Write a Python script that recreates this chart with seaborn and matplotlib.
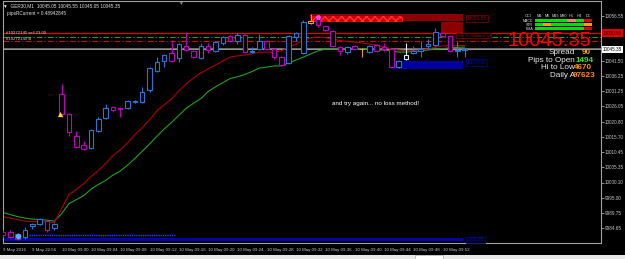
import numpy as np
import pandas as pd
import matplotlib
matplotlib.use("Agg")
import matplotlib.pyplot as plt
import seaborn as sns
from matplotlib.patches import Rectangle

# ---------------- data ----------------
opens = [9983.4, 9983.4, 9982.7, 9981.7, 9985.4, 9986.1, 9987.1, 9984.8,
         10030.2, 10023.4, 10016.0, 10012.9, 10011.9, 10017.7, 10022.1, 10025.8,
         10025.4, 10025.4, 10027.5, 10027.5, 10031.6, 10038.0, 10041.4, 10044.1,
         10042.4, 10046.5, 10044.8, 10042.4, 10046.5, 10044.8, 10047.5, 10049.9,
         10048.2, 10050.2, 10044.4, 10045.4, 10048.2, 10045.4, 10042.7, 10040.7,
         10049.5, 10044.1, 10054.3, 10055.6, 10053.2, 10051.6, 10046.1, 10044.4,
         10046.5, 10045.4, 10044.4, 10046.8, 10046.1, 10045.4, 10039.3, 10042.1,
         10044.1, 10044.8, 10046.5, 10046.8, 10050.9, 10049.9, 10044.6, 10045.0]
highs = [9983.8, 9983.8, 9983.0, 9985.1, 9986.5, 9988.2, 9987.5, 9986.5,
         10033.6, 10023.7, 10017.7, 10014.3, 10018.3, 10022.4, 10026.8, 10026.1,
         10025.8, 10028.2, 10028.2, 10032.6, 10039.3, 10042.7, 10043.8, 10048.5,
         10047.5, 10051.2, 10045.1, 10047.5, 10047.5, 10048.2, 10049.9, 10050.2,
         10050.9, 10050.5, 10046.1, 10050.5, 10048.5, 10045.8, 10043.1, 10050.2,
         10051.2, 10055.3, 10057.3, 10056.6, 10053.6, 10051.9, 10046.5, 10046.5,
         10046.8, 10045.8, 10046.8, 10047.1, 10047.5, 10045.8, 10041.7, 10047.5,
         10046.5, 10048.2, 10048.8, 10052.6, 10051.2, 10050.2, 10048.2, 10045.6]
lows = [9981.7, 9981.4, 9980.7, 9981.0, 9984.4, 9985.8, 9983.4, 9984.1,
        10022.4, 10016.0, 10011.9, 10011.2, 10011.5, 10017.3, 10021.7, 10024.1,
        10022.4, 10025.1, 10027.1, 10027.1, 10030.9, 10037.7, 10039.3, 10041.0,
        10041.0, 10044.8, 10042.4, 10042.1, 10044.1, 10044.4, 10046.8, 10047.8,
        10047.1, 10044.1, 10044.1, 10045.1, 10045.1, 10042.1, 10039.7, 10040.4,
        10048.2, 10043.8, 10053.9, 10052.9, 10051.6, 10046.1, 10043.4, 10043.8,
        10045.1, 10042.7, 10044.1, 10044.4, 10044.8, 10039.0, 10039.0, 10041.7,
        10043.8, 10042.7, 10045.4, 10046.5, 10049.5, 10044.4, 10042.7, 10042.7]
closes = [9982.1, 9981.7, 9981.0, 9984.1, 9986.1, 9987.8, 9983.8, 9986.1,
          10023.4, 10017.3, 10012.2, 10011.5, 10018.0, 10021.7, 10025.4, 10024.8,
          10025.1, 10027.8, 10027.8, 10030.9, 10039.0, 10041.0, 10043.4, 10041.4,
          10047.1, 10045.1, 10042.7, 10046.5, 10045.1, 10047.8, 10049.5, 10048.2,
          10050.2, 10044.4, 10044.8, 10048.2, 10045.4, 10042.7, 10040.0, 10049.9,
          10050.9, 10054.6, 10055.0, 10053.6, 10051.9, 10046.5, 10044.8, 10046.1,
          10045.4, 10045.3, 10046.5, 10044.8, 10045.4, 10039.3, 10041.4, 10043.4,
          10044.8, 10045.3, 10047.1, 10051.2, 10049.9, 10044.8, 10045.0, 10045.35]
ma_fast = [9988.5, 9988.0, 9987.5, 9987.0, 9986.8, 9986.8, 9986.6, 9986.5,
           9991.2, 9996.0, 9997.7, 9999.7, 10002.1, 10004.1, 10006.5, 10009.2,
           10011.2, 10013.6, 10016.3, 10018.7, 10021.4, 10024.4, 10026.5, 10028.5,
           10031.2, 10033.6, 10035.6, 10037.3, 10038.7, 10040.0, 10041.4, 10042.7,
           10043.1, 10043.4, 10043.8, 10044.4, 10044.4, 10044.4, 10044.8, 10046.1,
           10047.1, 10048.5, 10049.2, 10049.5, 10049.3, 10048.8, 10048.3, 10048.0,
           10047.8, 10047.5, 10047.1, 10046.8, 10046.1, 10045.4, 10045.1, 10044.9,
           10044.9, 10045.1, 10045.4, 10046.1, 10046.5, 10046.5, 10046.6, 10046.6]
ma_slow = [9989.9, 9989.2, 9988.5, 9988.0, 9987.7, 9987.5, 9987.3, 9987.0,
           9989.5, 9992.9, 9994.3, 9995.6, 9997.8, 9999.4, 10000.8, 10002.6,
           10004.0, 10006.0, 10008.3, 10010.7, 10013.2, 10015.8, 10018.3, 10020.5,
           10022.9, 10025.3, 10027.0, 10028.6, 10031.0, 10032.6, 10034.0, 10035.4,
           10036.0, 10036.8, 10037.8, 10039.0, 10039.3, 10039.7, 10039.7, 10040.7,
           10041.7, 10042.7, 10043.8, 10044.8, 10045.4, 10045.4, 10045.4, 10045.4,
           10045.4, 10045.4, 10045.3, 10045.1, 10045.1, 10044.8, 10044.4, 10044.4,
           10044.6, 10044.8, 10045.1, 10045.4, 10045.6, 10045.8, 10046.0, 10046.1]

x_tick_pos = list(range(0, 61, 4))
x_tick_labels = ["9 May 2016", "9 May 22:56", "10 May 09:00", "10 May 09:04", "10 May 09:08",
                 "10 May 09:12", "10 May 09:16", "10 May 09:20", "10 May 09:24", "10 May 09:28",
                 "10 May 09:32", "10 May 09:36", "10 May 09:40", "10 May 09:44", "10 May 09:48",
                 "10 May 09:52"]
y_ticks = [9984.65, 9989.75, 9995.00, 10000.10, 10005.35, 10010.45, 10015.70,
           10020.80, 10026.05, 10031.25, 10036.25, 10041.50, 10056.55]

sell_price = 10050.85
sl_price = 10049.6
tp_price = 10048.0
bid_price = 10045.35
ask_price = 10045.75
zone_top = (10055.0, 10057.3)
zone_top_hatch = (10054.6, 10056.6)
zone_top2 = (10050.5, 10054.6)
zone_blue = (10038.7, 10041.4)
zone_bottom = (9980.1, 9981.1)

info_labels = ["Spread", "Pips to Open", "Hi to Low", "Daily A"]
info_values = ["90", "1494", "4670", "97623"]
grid_cols = ["M1", "M5", "M15", "M30", "H1", "H4", "D1"]
grid_rows = ["MACD", "STR", "EMA"]
grid_states = [["g", "g", "g", "g", "s", "g", "r"],
               ["g", "o", "g", "g", "g", "g", "o"],
               ["g", "g", "g", "g", "g", "g", "r"]]

# ---------------- style ----------------
sns.set_style("dark", {"axes.facecolor": "black", "figure.facecolor": "black"})
plt.rcParams['font.family'] = ['Liberation Sans', 'DejaVu Sans']

W, H = 625, 259
fig = plt.figure(figsize=(W / 100, H / 100), dpi=100, facecolor='black')
ax = fig.add_axes([3 / W, (H - 243) / H, 598 / W, 242 / H])
ax.set_facecolor('black')

def fx(px):
    return px / W

def fy(py):
    return 1 - py / H

idx = np.arange(len(opens))
df = pd.DataFrame({"i": idx, "o": opens, "h": highs, "l": lows, "c": closes,
                   "fast": ma_fast, "slow": ma_slow})

BULL = '#2277d8'
BEAR = '#c000c0'
special = {42: '#e8a020', 49: '#e8a020', 55: '#d8f0ff'}
cols = [special.get(i, BULL if c >= o else BEAR) for i, o, c in zip(idx, opens, closes)]

# moving averages
sns.lineplot(data=df, x="i", y="slow", ax=ax, color='#20a020', lw=0.8, zorder=2)
sns.lineplot(data=df, x="i", y="fast", ax=ax, color='#b00000', lw=0.8, zorder=2)

# zones
ax.add_patch(Rectangle((41.9, zone_top[0]), 62.8 - 41.9, zone_top[1] - zone_top[0],
                       facecolor='#8c0000', edgecolor='none', zorder=1))
ax.add_patch(Rectangle((42.1, zone_top_hatch[0]), 54.6 - 42.1, zone_top_hatch[1] - zone_top_hatch[0],
                       facecolor='#d00000', edgecolor='#ff3030', hatch='xxxx', lw=0, zorder=1.2))
ax.add_patch(Rectangle((59.8, zone_top2[0]), 62.8 - 59.8, zone_top2[1] - zone_top2[0],
                       facecolor='#8c0000', edgecolor='none', zorder=1))
ax.add_patch(Rectangle((53.1, zone_blue[0]), 62.8 - 53.1, zone_blue[1] - zone_blue[0],
                       facecolor='#0000a0', edgecolor='none', zorder=1))
ax.add_patch(Rectangle((-1, zone_bottom[0]), 63.8, zone_bottom[1] - zone_bottom[0],
                       facecolor='#0000b0', edgecolor='none', zorder=1))
ax.plot([3.5, 23.5], [9982.3, 9982.3], color='#2040ff', lw=1.0, ls=(0, (1, 0.6)), zorder=1.3)

# order / price lines
ax.axhline(sell_price, color='#e00000', lw=0.9, zorder=1.5)
ax.axhline(sl_price, color='#20a020', lw=0.8, ls=(0, (5, 2, 1, 2)), zorder=1.5)
ax.axhline(tp_price, color='#e00000', lw=0.8, ls=(0, (5, 2, 1, 2)), zorder=1.5)
ax.axhline(ask_price, color='#808080', lw=0.6, zorder=1.5)
ax.axhline(bid_price, color='#b0b0b0', lw=0.6, zorder=1.5)

# candles
ax.vlines(df["i"], df["l"], df["h"], colors=cols, lw=0.8, zorder=3)
body_lo = np.minimum(df["o"], df["c"])
body_h = np.maximum(np.abs(df["c"] - df["o"]), 0.3)
ax.bar(df["i"], body_h, bottom=body_lo, width=0.62, facecolor='black',
       edgecolor=cols, linewidth=0.8, zorder=4)

# small markers
ax.scatter([43], [10056.3], s=12, color='#ff40ff', zorder=5, linewidths=0)
ax.scatter([7.8], [10023.2], s=14, marker='^', color='#ffe000', zorder=5, linewidths=0)
ax.scatter([2], [9982.0], s=16, color='#40b8ff', zorder=5, linewidths=0)

ax.text(50.8, 10027.1, "and try again... no loss method!", color='white',
        fontsize=4.5, ha='center', va='center', zorder=6)

# zone labels
ax.text(63.3, 10055.9, "10055.55", color='#a00000', fontsize=3.4, va='center', ha='left',
        bbox=dict(facecolor='black', edgecolor='#8c0000', pad=0.6, lw=0.5), zorder=6)
ax.text(61.9, 10050.0, "Key Resistance lvl", color='#a00000', fontsize=3.0, va='center', ha='left',
        bbox=dict(facecolor='black', edgecolor='#8c0000', pad=0.5, lw=0.5), zorder=6)
ax.text(63.3, 10040.9, "10039.80", color='#0000c0', fontsize=3.4, va='center', ha='left',
        bbox=dict(facecolor='black', edgecolor='#0000a0', pad=0.6, lw=0.5), zorder=6)
ax.text(63.3, 9980.6, "9980.55", color='#0000c0', fontsize=3.4, va='center', ha='left',
        bbox=dict(facecolor='black', edgecolor='#0000a0', pad=0.6, lw=0.5), zorder=6)

# axes
ax.set_xlim(0.04, 0.04 + 598 / 7.33)
ax.set_ylim(9979.55, 10061.75)
ax.yaxis.tick_right()
ax.set_yticks(y_ticks)
ax.set_yticklabels([f"{v:.2f}" for v in y_ticks])
ax.set_xticks(x_tick_pos)
ax.set_xticklabels(x_tick_labels)
for lab in ax.get_xticklabels():
    lab.set_horizontalalignment('left')
ax.tick_params(axis='y', colors='#c8c8c8', labelsize=3.3, length=2, width=0.5, pad=1)
ax.tick_params(axis='x', colors='#c8c8c8', labelsize=3.2, length=2, width=0.5, pad=1.5)
ax.set_xlabel('')
ax.set_ylabel('')
ax.grid(False)
for s in ax.spines.values():
    s.set_color('#a0a0a0')
    s.set_linewidth(0.8)
    s.set_visible(True)

# price boxes on axis
tr = ax.get_yaxis_transform()
ax.text(1.003, sell_price, "10050.85", transform=tr, color='#300000', fontsize=3.3, va='center',
        ha='left', bbox=dict(facecolor='#e00000', edgecolor='none', pad=0.8), clip_on=False, zorder=7)
ax.text(1.003, bid_price, "10045.35", transform=tr, color='black', fontsize=3.3, va='center',
        ha='left', bbox=dict(facecolor='white', edgecolor='none', pad=0.8), clip_on=False, zorder=7)

# header texts
fig.text(fx(3), fy(6), "\u25bc  GER30,M1  10045.05 10045.55 10045.05 10045.35", color='#e0e0e0',
         fontsize=3.4, va='center', ha='left')
fig.text(fx(7), fy(13), "pipsRCurrent = 0.48942845", color='#e0e0e0', fontsize=3.4, va='center')
fig.text(fx(6), fy(32.5), "#10272145 sell 23.00", color='#d0d0d0', fontsize=3.1, va='center')
fig.text(fx(6), fy(39.5), "#10272145 sl", color='#d0d0d0', fontsize=3.1, va='center')
fig.text(fx(180), fy(3), "\u25bc", color='#909090', fontsize=3.5, ha='center', va='center')

# info panel
fig.text(fx(591), fy(40), "10045.35", color='#ff0000', fontsize=14.5, ha='right', va='center')
val_x = [582, 576, 574, 573]
val_cols = ['#f0a020', '#30e030', '#ff8c00', '#ff8c00']
for k, (lab, val) in enumerate(zip(info_labels, info_values)):
    yy = 53 + 7.4 * k
    fig.text(fx(575), fy(yy), lab, color='#e8e8e8', fontsize=5.9, ha='right', va='center')
    fig.text(fx(val_x[k]), fy(yy), val, color=val_cols[k], fontsize=5.9, ha='left', va='center',
             fontweight='bold')

state_col = {"g": '#00e000', "s": '#f08080', "r": '#e00000', "o": '#ffa000'}
cell_w, x0 = 8.1, 535
fig.text(fx(528), fy(16), "CCI", color='#e0e0e0', fontsize=2.8, ha='center', va='center')
for j, cn in enumerate(grid_cols):
    fig.text(fx(x0 + cell_w * (j + 0.5)), fy(16), cn, color='#e0e0e0', fontsize=2.8,
             ha='center', va='center')
for r, rn in enumerate(grid_rows):
    ytop = 19 + 4 * r
    fig.text(fx(533), fy(ytop + 1.5), rn, color='#e0e0e0', fontsize=2.6, ha='right', va='center')
    for j in range(len(grid_cols)):
        fig.patches.append(Rectangle((fx(x0 + cell_w * j), fy(ytop + 3)), cell_w / W, 3 / H,
                                     transform=fig.transFigure, facecolor=state_col[grid_states[r][j]],
                                     edgecolor='none'))

# bottom tab strip
fig.patches.append(Rectangle((0, 0), 1, 4 / H, transform=fig.transFigure,
                             facecolor='#e8e8e8', edgecolor='none'))
fig.patches.append(Rectangle((fx(415), 0), 28 / W, 4 / H, transform=fig.transFigure,
                             facecolor='white', edgecolor='#a0a0a0', lw=0.4))

fig.savefig("out.png", dpi=100, facecolor='black')
